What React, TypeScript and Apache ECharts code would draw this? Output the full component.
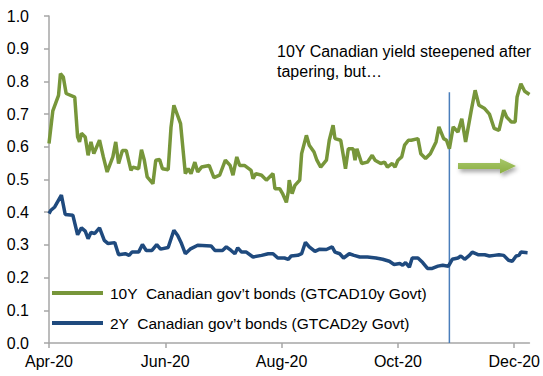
import React, { useEffect, useRef } from "react";
import * as echarts from "echarts";

// x positions are days since 1 Apr 2020
const xTickDays = [0, 61, 122, 183, 244];
const xTickLabels = ["Apr-20", "Jun-20", "Aug-20", "Oct-20", "Dec-20"];
const xMaxDay = 252;

const name10y = "10Y  Canadian gov\u2019t bonds (GTCAD10y Govt)";
const name2y = "2Y  Canadian gov\u2019t bonds (GTCAD2y Govt)";

const days10y = [0, 2, 5, 6, 7.5, 9, 13.5, 15, 16, 17, 19, 20.5, 22, 23.5, 26.5, 28.5, 30.5, 33.5, 35, 36.5, 38.5, 40.5, 43, 44, 47, 48.5, 50, 51.5, 54.5, 56, 58, 59.5, 62.5, 64, 65.5, 69, 71.5, 73, 74.5, 76.5, 78, 80, 84, 86.5, 89.5, 92.5, 95, 96.5, 98.5, 100, 102.5, 106, 107, 108.5, 111.5, 114, 117.5, 118.5, 121, 122.5, 124.5, 125.5, 126, 127.5, 129, 131.5, 132.5, 135, 136.5, 139, 140.5, 142.5, 145.5, 147, 149, 150, 153, 154.5, 155.5, 157, 159.5, 160.5, 161.5, 164, 167, 169.5, 171, 174, 176, 177.5, 180, 181.5, 183, 185, 186.5, 188.5, 190, 193.5, 195, 197.5, 200, 203, 204.5, 207, 208.5, 210, 212, 214.5, 216.5, 218.5, 221.5, 223.5, 225.5, 228.5, 231, 233.5, 236, 238.5, 240, 242.5, 244.5, 245.5, 247.5, 249.5, 252];
const yield10y = [0.61, 0.71, 0.757, 0.824, 0.813, 0.763, 0.752, 0.63, 0.615, 0.641, 0.63, 0.574, 0.615, 0.579, 0.62, 0.569, 0.523, 0.569, 0.615, 0.549, 0.589, 0.589, 0.528, 0.538, 0.533, 0.591, 0.559, 0.508, 0.487, 0.559, 0.561, 0.533, 0.53, 0.66, 0.727, 0.671, 0.518, 0.533, 0.518, 0.553, 0.523, 0.538, 0.543, 0.506, 0.513, 0.559, 0.543, 0.513, 0.569, 0.543, 0.543, 0.528, 0.503, 0.518, 0.513, 0.498, 0.518, 0.472, 0.472, 0.457, 0.43, 0.462, 0.498, 0.457, 0.482, 0.498, 0.579, 0.635, 0.605, 0.584, 0.559, 0.538, 0.559, 0.62, 0.666, 0.625, 0.62, 0.569, 0.533, 0.594, 0.594, 0.559, 0.594, 0.549, 0.553, 0.574, 0.559, 0.549, 0.553, 0.538, 0.549, 0.538, 0.559, 0.569, 0.605, 0.62, 0.62, 0.625, 0.579, 0.564, 0.579, 0.615, 0.661, 0.625, 0.62, 0.594, 0.661, 0.645, 0.686, 0.615, 0.712, 0.773, 0.727, 0.717, 0.7, 0.656, 0.65, 0.712, 0.691, 0.676, 0.676, 0.752, 0.793, 0.77, 0.76];

const days2y = [0, 1, 3, 6.5, 8.5, 12.5, 15, 17, 19, 20.5, 22, 24, 26.5, 29, 31, 34.5, 36.5, 40, 42, 43.5, 47, 49, 51, 54, 56.5, 58.5, 62.5, 65.5, 67.5, 69.5, 71.5, 74, 78, 85, 87, 91, 93, 95.5, 97.5, 99, 101, 103.5, 107, 111.5, 115, 117.5, 120, 123.5, 125.5, 127, 130.5, 132.5, 134.5, 136.5, 139.5, 142, 145.5, 148.5, 150, 152.5, 154.5, 157.5, 160, 163, 167, 171.5, 175, 178.5, 181, 184, 185.5, 187, 189, 190.5, 193.5, 196, 198.5, 201, 204, 206.5, 209.5, 211.5, 214.5, 216, 218, 220.5, 222, 225, 228.5, 231, 233.5, 236, 238.5, 241, 243, 245, 246.5, 247.5, 251];
const yield2y = [0.396, 0.406, 0.416, 0.452, 0.393, 0.391, 0.331, 0.352, 0.342, 0.319, 0.338, 0.335, 0.352, 0.314, 0.304, 0.307, 0.27, 0.273, 0.268, 0.278, 0.278, 0.301, 0.283, 0.283, 0.301, 0.287, 0.292, 0.345, 0.329, 0.304, 0.273, 0.287, 0.299, 0.297, 0.283, 0.283, 0.294, 0.283, 0.273, 0.291, 0.278, 0.278, 0.263, 0.268, 0.273, 0.273, 0.26, 0.26, 0.256, 0.266, 0.268, 0.273, 0.308, 0.294, 0.28, 0.287, 0.286, 0.294, 0.278, 0.273, 0.26, 0.273, 0.268, 0.263, 0.263, 0.26, 0.256, 0.25, 0.24, 0.243, 0.238, 0.246, 0.232, 0.26, 0.26, 0.246, 0.228, 0.228, 0.235, 0.238, 0.235, 0.256, 0.26, 0.266, 0.256, 0.268, 0.278, 0.27, 0.27, 0.266, 0.268, 0.27, 0.268, 0.253, 0.25, 0.266, 0.268, 0.278, 0.276];

// Tapering announcement marker (28 Oct 2020)
const taperDay = [210, 210];
const taperLine = [0, 0.767];

const annotation = "10Y Canadian yield steepened after\ntapering, but\u2026";

const FONT = "Liberation Sans, Arial, sans-serif";
const GREEN = "#77963A";
const BLUE = "#1F4A7E";

export default function App() {
  const ref = useRef<HTMLDivElement>(null);
  useEffect(() => {
    document.body.style.margin = "0";
    if (!ref.current) return;
    const chart = echarts.init(ref.current, null, { renderer: "svg" });
    const pairs = (xs: number[], ys: number[]) => xs.map((x, i) => [x, ys[i]]);
    const legendText = { color: "#000", fontSize: 15.5, fontFamily: FONT, lineHeight: 20, padding: [0, 0, 0, 2] };
    chart.setOption({
      animation: false,
      grid: { left: 49, right: 13, top: 16, bottom: 33, containLabel: false },
      xAxis: {
        type: "value",
        min: 0,
        max: xMaxDay,
        interval: 61,
        splitLine: { show: false },
        axisLine: { lineStyle: { color: "#A6A6A6", width: 1.5 } },
        axisTick: { customValues: xTickDays, length: 5, lineStyle: { color: "#A6A6A6", width: 1.5 } },
        axisLabel: {
          customValues: xTickDays,
          formatter: (v: number) => xTickLabels[xTickDays.indexOf(Math.round(v))] ?? "",
          color: "#000",
          fontSize: 16,
          fontFamily: FONT,
          margin: 10,
        },
      },
      yAxis: {
        type: "value",
        min: 0,
        max: 1,
        interval: 0.1,
        splitLine: { show: false },
        axisLine: { show: true, lineStyle: { color: "#A6A6A6", width: 1.5 } },
        axisTick: { show: true, length: 5, lineStyle: { color: "#A6A6A6", width: 1.5 } },
        axisLabel: {
          formatter: (v: number) => v.toFixed(1),
          color: "#000",
          fontSize: 16,
          fontFamily: FONT,
          margin: 20,
        },
      },
      legend: [
        {
          data: [name10y],
          left: 52,
          top: 283,
          orient: "vertical",
          padding: 0,
          icon: "rect",
          itemWidth: 51,
          itemHeight: 4,
          textStyle: legendText,
        },
        {
          data: [name2y],
          left: 52,
          top: 313,
          orient: "vertical",
          padding: 0,
          icon: "rect",
          itemWidth: 51,
          itemHeight: 4,
          textStyle: legendText,
        },
      ],
      series: [
        {
          name: name10y,
          type: "line",
          data: pairs(days10y, yield10y),
          showSymbol: false,
          symbol: "none",
          lineStyle: { color: GREEN, width: 3.5 },
          itemStyle: { color: GREEN },
        },
        {
          name: name2y,
          type: "line",
          data: pairs(days2y, yield2y),
          showSymbol: false,
          symbol: "none",
          lineStyle: { color: BLUE, width: 3.5 },
          itemStyle: { color: BLUE },
        },
        {
          name: "taper",
          type: "line",
          data: pairs(taperDay, taperLine),
          showSymbol: false,
          symbol: "none",
          lineStyle: { color: "#4A7EBB", width: 1.5 },
          z: 1,
        },
      ],
      graphic: [
        {
          type: "text",
          left: 277,
          top: 41,
          style: { text: annotation, font: `16px ${FONT}`, lineHeight: 20, fill: "#000" },
        },
        {
          type: "polygon",
          shape: {
            points: [
              [458, 163],
              [500, 163],
              [500, 158.5],
              [516, 166],
              [500, 173.5],
              [500, 169],
              [458, 169],
            ],
          },
          style: {
            fill: new echarts.graphic.LinearGradient(0, 0, 0, 1, [
              { offset: 0, color: "#A8C76A" },
              { offset: 1, color: "#8AAE42" },
            ]),
            shadowBlur: 4,
            shadowOffsetX: 2,
            shadowOffsetY: 3,
            shadowColor: "rgba(0,0,0,0.35)",
          },
        },
      ],
    });
    return () => chart.dispose();
  }, []);
  return <div ref={ref} style={{ width: 543, height: 376 }} />;
}
